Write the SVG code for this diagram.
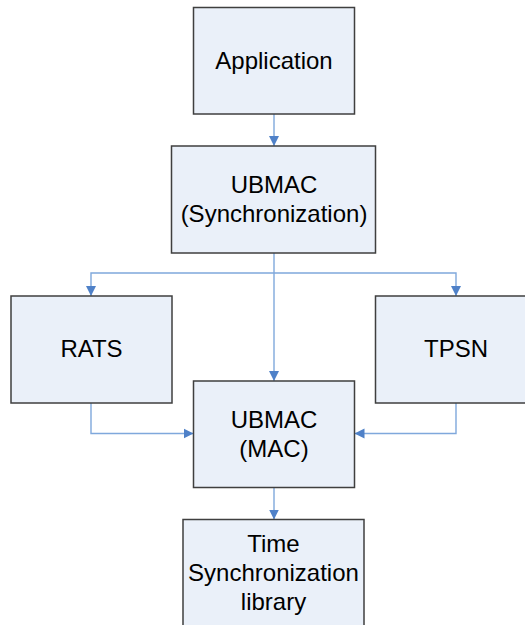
<svg xmlns="http://www.w3.org/2000/svg" width="525" height="625" viewBox="0 0 525 625">
<defs>
<marker id="ah" markerUnits="userSpaceOnUse" markerWidth="10" markerHeight="11" viewBox="0 0 10 11" refX="10" refY="5.5" orient="auto">
<path d="M0,0.5 L10,5.5 L0,10.5 Z" fill="#4F81C8"/>
</marker>
<style>
.box{fill:#EAF0F9;stroke:#3F3F3F;stroke-width:1.5}
.t{font-family:"Liberation Sans",Arial,sans-serif;font-size:24px;fill:#000;text-anchor:middle}
.c{fill:none;stroke:#7FA8DC;stroke-width:1.4;marker-end:url(#ah)}
</style>
</defs>
<rect width="525" height="625" fill="#fff"/>
<g id="connectors">
<path class="c" d="M274,114 V146"/>
<path class="c" d="M274,253 V381"/>
<path class="c" d="M274,273 H91 V296"/>
<path class="c" d="M274,273 H456 V296"/>
<path class="c" d="M91,403 V433.5 H193.5"/>
<path class="c" d="M456,403 V433.5 H354.5"/>
<path class="c" d="M274,487.5 V519.5"/>
</g>
<g id="application">
<rect class="box" x="193.5" y="7.5" width="161" height="106.5"/>
<text class="t" x="274" y="68.5">Application</text>
</g>
<g id="ubmac-sync">
<rect class="box" x="171.5" y="146" width="204" height="107"/>
<text class="t" x="274" y="193">UBMAC</text>
<text class="t" x="274" y="222">(Synchronization)</text>
</g>
<g id="rats">
<rect class="box" x="11" y="296" width="161" height="107"/>
<text class="t" x="91.5" y="357">RATS</text>
</g>
<g id="tpsn">
<rect class="box" x="375.5" y="296" width="161" height="107"/>
<text class="t" x="456" y="357">TPSN</text>
</g>
<g id="ubmac-mac">
<rect class="box" x="193.5" y="381" width="161" height="106.5"/>
<text class="t" x="274" y="427.5">UBMAC</text>
<text class="t" x="274" y="457">(MAC)</text>
</g>
<g id="time-sync-lib">
<rect class="box" x="183" y="519.5" width="181" height="120"/>
<text class="t" x="273.5" y="552">Time</text>
<text class="t" x="273.5" y="581">Synchronization</text>
<text class="t" x="273.5" y="610">library</text>
</g>
</svg>
